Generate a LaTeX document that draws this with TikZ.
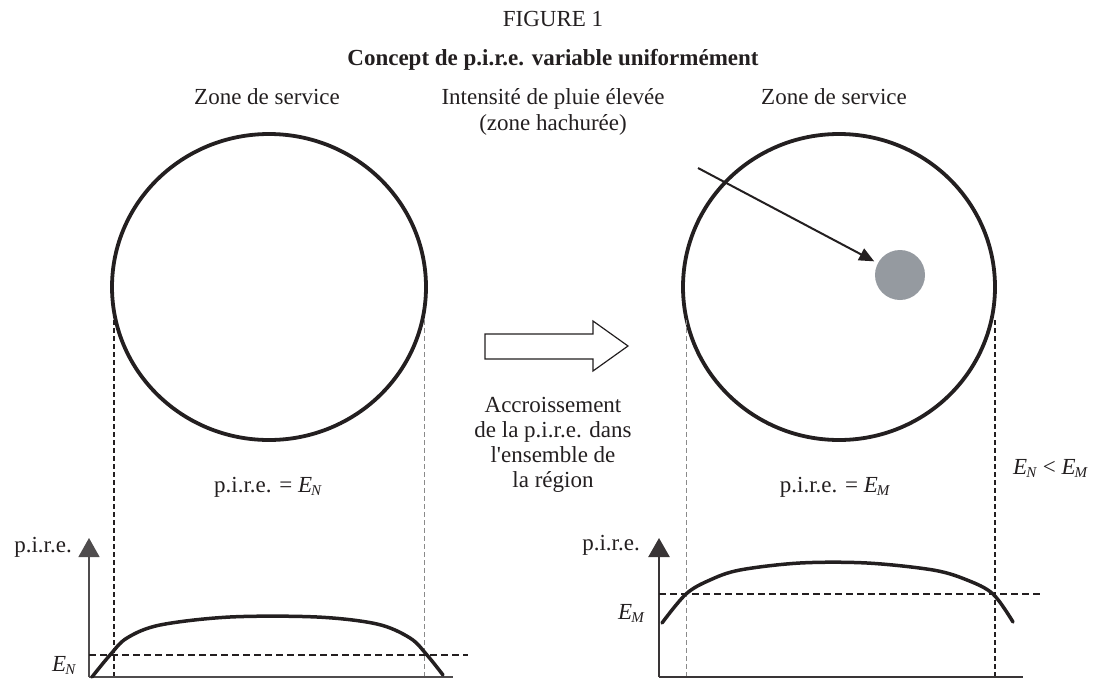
\documentclass[tikz,border=0pt]{standalone}
\usepackage{fontspec}
\setmainfont{Liberation Serif}[Ligatures=TeXOff]
\usetikzlibrary{arrows.meta}
\definecolor{ink}{HTML}{231F20}
\definecolor{raingray}{HTML}{959AA0}
\definecolor{thingray}{HTML}{8A8A8A}
\newcommand{\Esub}[1]{\textit{E}\kern-0.04em\raisebox{-0.3ex}{\fontsize{15}{15}\selectfont\textit{#1}}}
\begin{document}
\begin{tikzpicture}[x=1pt,y=-1pt,
  font=\fontsize{23}{25}\selectfont, text=ink,
  lbl/.style={inner sep=0pt, anchor=base},
  dropthick/.style={draw=ink, line width=1.4pt, dash pattern=on 5pt off 3pt},
  dropthin/.style={draw=thingray, line width=0.8pt, dash pattern=on 5pt off 3pt},
  level/.style={draw=ink, line width=1.4pt, dash pattern=on 7pt off 4pt},
  eirp/.style={draw=ink, line width=3.5pt, line cap=round},
  axisthin/.style={draw=ink!80, line width=1.3pt},
  axisthick/.style={draw=ink!90, line width=2.5pt},
  axtip/.style={-{Triangle[length=19pt,width=21pt]}},
  bigarrow/.style={draw=ink, line width=1.2pt, fill=white}]
\useasboundingbox (0,0) rectangle (1097,680);
% titles
\node[lbl] (fig) at (553,27) {FIGURE 1};
\node[lbl, font=\fontsize{23}{25}\selectfont\bfseries] (title) at (553,65) {Concept de p.i.r.e. variable uniformément};
\node[lbl] (zoneLtxt) at (267,104) {Zone de service};
\node[lbl] (zoneRtxt) at (834,104) {Zone de service};
\node[lbl, align=center, font=\fontsize{23}{26}\selectfont] (raintxt) at (553,130) {Intensité de pluie élevée\\(zone hachurée)};
% circles
\draw[draw=ink, line width=3.8pt] (269,287) ellipse [x radius=157, y radius=153];
\draw[draw=ink, line width=3.8pt] (839,287) ellipse [x radius=156, y radius=153];
\node[circle, fill=raingray, minimum size=50pt, inner sep=0pt] (rain) at (900,275) {};
\coordinate (rainfrom) at (698,168);
\draw[draw=ink, line width=2pt, -{Triangle[length=15pt,width=13pt]}, shorten >=4pt] (rainfrom) -- (rain);
% big hollow arrow
\draw[bigarrow] (485,334) -- (593,334) -- (593,321) -- (628,346) -- (593,371) -- (593,359) -- (485,359) -- cycle;
\node[lbl, align=center] (incr) at (553,487) {Accroissement\\de la p.i.r.e. dans\\l'ensemble de\\la région};
\node[lbl] (eirpL) at (268,492) {p.i.r.e. = \Esub{N}};
\node[lbl] (eirpR) at (835,492) {p.i.r.e. = \Esub{M}};
\node[lbl, anchor=base west] (ineq) at (1013,474) {\Esub{N} < \Esub{M}};
% dashed projections
\draw[dropthick] (114,320) -- (114,677);
\draw[dropthin] (424,320) -- (424,677);
\draw[dropthin] (686,320) -- (686,677);
\draw[dropthick] (995,320) -- (995,677);
% left graph
\coordinate (oL) at (89,677);
\draw[axisthin] (oL) -- (453,677);
\draw[axisthin, axtip] (oL) -- (89,538);
\draw[level] (oL |- 0,655) -- (468,655);
\draw[eirp] plot[smooth, tension=0.55] coordinates {(92,677) (110,655) (127,638) (160,625) (230,617) (317,617) (377,624) (410,638) (427,655) (443,675)};
\node[lbl, anchor=base east] (yL) at (72,552) {p.i.r.e.};
\node[lbl, anchor=base west] (enL) at (52,671) {\Esub{N}};
% right graph
\coordinate (oR) at (659,677);
\draw[axisthick] (oR) -- (1023,677);
\draw[axisthick, axtip] (oR) -- (659,538);
\draw[level] (oR |- 0,594) -- (1043,594);
\draw[eirp] plot[smooth, tension=0.55] coordinates {(662,623) (686,594) (710,580) (740,570) (800,563) (867,563) (933,570) (967,580) (993,594) (1013,622)};
\node[lbl, anchor=base east] (yR) at (640,550) {p.i.r.e.};
\node[lbl, anchor=base west] (emR) at (618,619) {\Esub{M}};
\end{tikzpicture}
\end{document}
